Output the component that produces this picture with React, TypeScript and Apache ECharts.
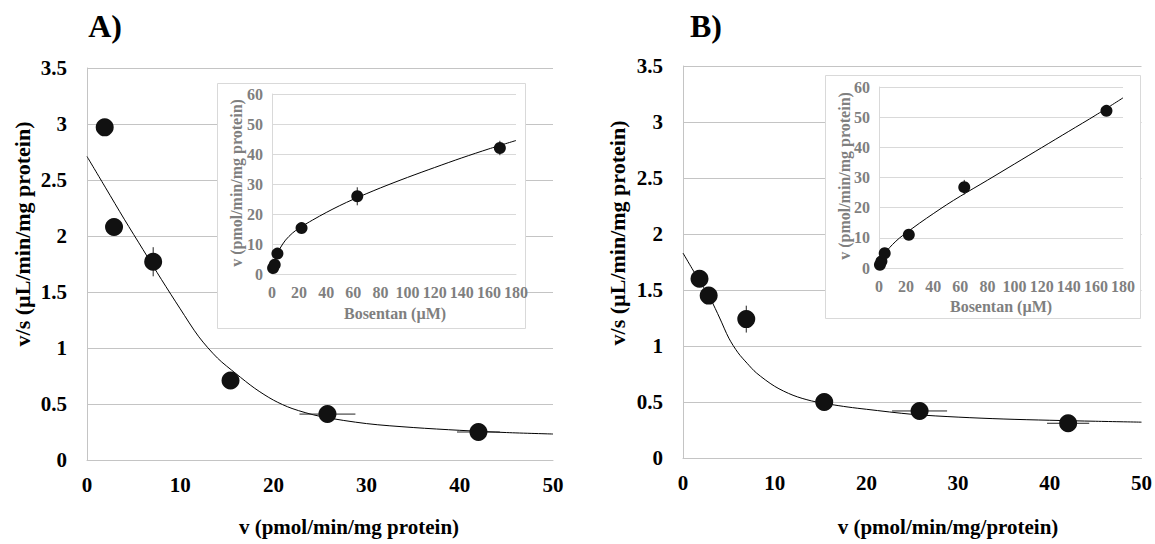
import React, { useEffect, useRef } from "react";
import * as echarts from "echarts";

// ---------- Data ----------
// Panel A main (Eadie-Hofstee): v vs v/s
const mainAX = [1.9, 2.9, 7.1, 15.4, 25.8, 42.0];
const mainAY = [2.97, 2.08, 1.77, 0.71, 0.41, 0.25];
const mainAXErr = [0, 0, 0, 0, 3.0, 2.3];
const mainAYErr = [0, 0, 0.13, 0, 0, 0];
const curveAX = [0, 2, 4, 6, 8, 10, 12, 14, 16, 18, 20, 22, 25, 30, 35, 40, 45, 50];
const curveAY = [2.71, 2.43, 2.15, 1.88, 1.61, 1.35, 1.1, 0.91, 0.77, 0.64, 0.535, 0.46, 0.39, 0.325, 0.29, 0.265, 0.245, 0.232];

// Panel B main
const mainBX = [1.8, 2.8, 6.9, 15.4, 25.8, 42.0];
const mainBY = [1.6, 1.45, 1.24, 0.5, 0.42, 0.31];
const mainBXErr = [0, 0, 0, 0, 3.0, 2.3];
const mainBYErr = [0, 0, 0.12, 0, 0, 0];
const curveBX = [0, 1, 2, 3, 4, 5, 6, 7, 8, 10, 12, 14, 16, 18, 20, 25, 30, 35, 40, 45, 50];
const curveBY = [1.83, 1.69, 1.555, 1.42, 1.25, 1.07, 0.94, 0.845, 0.76, 0.64, 0.56, 0.51, 0.48, 0.455, 0.435, 0.39, 0.365, 0.348, 0.337, 0.328, 0.32];

// Inset A: Bosentan (µM) vs v
const insetAX = [0.8, 2.0, 4.0, 21.8, 62.9, 168.1];
const insetAY = [2.0, 3.1, 6.8, 15.3, 25.9, 42.0];
const insetAYErr = [0, 0, 0, 0, 3.0, 2.4];
const insetACurveX = [0, 1, 2, 4, 6, 10, 15, 20, 30, 40, 50, 60, 80, 100, 120, 140, 160, 180];
const insetACurveY = [0, 2.2, 3.8, 6.5, 8.6, 11.3, 13.6, 15.3, 18.0, 20.5, 22.8, 24.9, 28.7, 32.2, 35.5, 38.7, 41.7, 44.5];

// Inset B
const insetBX = [0.7, 1.8, 4.2, 22.0, 62.9, 167.8];
const insetBY = [1.1, 2.2, 4.9, 11.0, 26.8, 52.1];
const insetBYErr = [0, 0, 0, 0, 2.4, 0];
const insetBCurveX = [0, 1, 2, 4, 6, 10, 15, 20, 30, 40, 50, 60, 80, 100, 120, 140, 160, 180];
const insetBCurveY = [0, 1.7, 2.8, 4.5, 5.8, 7.8, 9.9, 11.6, 14.9, 18.0, 21.0, 23.8, 29.1, 34.5, 39.9, 45.3, 50.7, 56.4];

const mainXTicks = { min: 0, max: 50, interval: 10 };
const mainYTicks = { min: 0, max: 3.5, interval: 0.5 };
const insetXTicks = { min: 0, max: 180, interval: 20 };
const insetYTicks = { min: 0, max: 60, interval: 10 };

const panelLabels = ["A)", "B)"];
const mainYTitle = "v/s (µL/min/mg protein)";
const mainXTitleA = "v (pmol/min/mg protein)";
const mainXTitleB = "v (pmol/min/mg/protein)";
const insetYTitle = "v (pmol/min/mg protein)";
const insetXTitle = "Bosentan (µM)";

// ---------- Helpers ----------
const SERIF = "Liberation Serif";
const GRID_MAIN = "#c4c4c4";
const GRID_INSET = "#d9d9d9";
const INSET_TEXT = "#7f7f7f";

const zip = (a: number[], b: number[]) => a.map((v, i) => [v, b[i]]);
const zip4 = (a: number[], b: number[], c: number[], d: number[]) => a.map((v, i) => [v, b[i], c[i], d[i]]);

function errorRender(color: string) {
  return (params: any, api: any) => {
    const x = api.value(0);
    const y = api.value(1);
    const ex = api.value(2);
    const ey = api.value(3);
    const children: any[] = [];
    if (ey > 0) {
      const p1 = api.coord([x, y - ey]);
      const p2 = api.coord([x, y + ey]);
      children.push({ type: "line", shape: { x1: p1[0], y1: p1[1], x2: p2[0], y2: p2[1] }, style: { stroke: color, lineWidth: 1 } });
    }
    if (ex > 0) {
      const p1 = api.coord([x - ex, y]);
      const p2 = api.coord([x + ex, y]);
      children.push({ type: "line", shape: { x1: p1[0], y1: p1[1], x2: p2[0], y2: p2[1] }, style: { stroke: color, lineWidth: 1 } });
    }
    return { type: "group", children };
  };
}

function mainXAxis(gridIndex: number) {
  return {
    type: "value", gridIndex, ...mainXTicks, z: 0,
    axisLine: { show: true, onZero: false, lineStyle: { color: GRID_MAIN, width: 1 } },
    axisTick: { show: false },
    splitLine: { show: false },
    axisLabel: { color: "#000", fontFamily: SERIF, fontWeight: "bold", fontSize: 21, margin: 14 },
  };
}
function mainYAxis(gridIndex: number) {
  return {
    type: "value", gridIndex, ...mainYTicks, z: 0,
    axisLine: { show: true, onZero: false, lineStyle: { color: GRID_MAIN, width: 1 } },
    axisTick: { show: false },
    splitLine: { show: true, lineStyle: { color: GRID_MAIN, width: 1 } },
    axisLabel: { color: "#000", fontFamily: SERIF, fontWeight: "bold", fontSize: 21, margin: 20 },
  };
}
function insetXAxis(gridIndex: number) {
  return {
    type: "value", gridIndex, ...insetXTicks, z: 10,
    axisLine: { show: true, onZero: false, lineStyle: { color: GRID_INSET, width: 1 } },
    axisTick: { show: false },
    splitLine: { show: false },
    axisLabel: { color: INSET_TEXT, fontFamily: SERIF, fontWeight: "bold", fontSize: 16, margin: 10 },
  };
}
function insetYAxis(gridIndex: number) {
  return {
    type: "value", gridIndex, ...insetYTicks, z: 10,
    axisLine: { show: true, onZero: false, lineStyle: { color: GRID_INSET, width: 1 } },
    axisTick: { show: false },
    splitLine: { show: true, lineStyle: { color: GRID_INSET, width: 1 } },
    axisLabel: { color: INSET_TEXT, fontFamily: SERIF, fontWeight: "bold", fontSize: 16, margin: 9 },
  };
}

function text(t: string, x: number, y: number, size: number, color: string, rotate = false) {
  return {
    type: "text", x, y, z: 20,
    rotation: rotate ? Math.PI / 2 : 0,
    style: {
      text: t, fill: color,
      fontFamily: SERIF, fontWeight: "bold", fontSize: size,
      align: "center", verticalAlign: "middle", textAlign: "center", textVerticalAlign: "middle",
    },
  };
}

export default function App() {
  const ref = useRef<HTMLDivElement>(null);
  useEffect(() => {
    if (!ref.current) return;
    const chart = echarts.init(ref.current, null, { renderer: "svg" });
    const dot = "#111";
    const option: any = {
      animation: false,
      backgroundColor: "#fff",
      textStyle: { fontFamily: SERIF },
      grid: [
        { left: 87, top: 68, width: 466, height: 392, show: false },
        { left: 683, top: 66, width: 459, height: 392, show: false },
        { left: 272, top: 94, width: 244, height: 180, show: false, z: 10 },
        { left: 879, top: 87, width: 244, height: 181, show: false, z: 10 },
      ],
      xAxis: [mainXAxis(0), mainXAxis(1), insetXAxis(2), insetXAxis(3)],
      yAxis: [mainYAxis(0), mainYAxis(1), insetYAxis(2), insetYAxis(3)],
      graphic: [
        { type: "rect", z: 5, shape: { x: 217.5, y: 83.5, width: 308, height: 245 }, style: { fill: "#fff", stroke: GRID_INSET, lineWidth: 1 } },
        { type: "rect", z: 5, shape: { x: 825.5, y: 75.5, width: 315, height: 243 }, style: { fill: "#fff", stroke: GRID_INSET, lineWidth: 1 } },
        text(panelLabels[0], 105, 26, 32, "#000"),
        text(panelLabels[1], 706, 26, 32, "#000"),
        text(mainYTitle, 22, 234, 22, "#000", true),
        text(mainYTitle, 617, 233, 22, "#000", true),
        text(mainXTitleA, 349, 527, 21, "#000"),
        text(mainXTitleB, 948, 527, 21, "#000"),
        text(insetYTitle, 236, 183, 16, INSET_TEXT, true),
        text(insetYTitle, 844, 176, 16, INSET_TEXT, true),
        text(insetXTitle, 395, 313, 16, INSET_TEXT),
        text(insetXTitle, 1001, 306, 16, INSET_TEXT),
      ],
      series: [
        // Panel A main
        { type: "line", xAxisIndex: 0, yAxisIndex: 0, data: zip(curveAX, curveAY), smooth: 0.3, showSymbol: false, symbol: "none", lineStyle: { color: "#000", width: 1 }, z: 2 },
        { type: "custom", xAxisIndex: 0, yAxisIndex: 0, data: zip4(mainAX, mainAY, mainAXErr, mainAYErr), renderItem: errorRender("#222"), encode: { x: 0, y: 1 }, z: 3 },
        { type: "scatter", xAxisIndex: 0, yAxisIndex: 0, data: zip(mainAX, mainAY), symbolSize: 18, itemStyle: { color: dot, opacity: 1 }, z: 4 },
        // Panel B main
        { type: "line", xAxisIndex: 1, yAxisIndex: 1, data: zip(curveBX, curveBY), smooth: 0.3, showSymbol: false, symbol: "none", lineStyle: { color: "#000", width: 1 }, z: 2 },
        { type: "custom", xAxisIndex: 1, yAxisIndex: 1, data: zip4(mainBX, mainBY, mainBXErr, mainBYErr), renderItem: errorRender("#222"), encode: { x: 0, y: 1 }, z: 3 },
        { type: "scatter", xAxisIndex: 1, yAxisIndex: 1, data: zip(mainBX, mainBY), symbolSize: 18, itemStyle: { color: dot, opacity: 1 }, z: 4 },
        // Inset A
        { type: "line", xAxisIndex: 2, yAxisIndex: 2, data: zip(insetACurveX, insetACurveY), smooth: 0.3, showSymbol: false, symbol: "none", lineStyle: { color: "#000", width: 1 }, z: 12 },
        { type: "custom", xAxisIndex: 2, yAxisIndex: 2, data: zip4(insetAX, insetAY, insetAX.map(() => 0), insetAYErr), renderItem: errorRender("#222"), encode: { x: 0, y: 1 }, z: 13 },
        { type: "scatter", xAxisIndex: 2, yAxisIndex: 2, data: zip(insetAX, insetAY), symbolSize: 12, itemStyle: { color: dot, opacity: 1 }, z: 14 },
        // Inset B
        { type: "line", xAxisIndex: 3, yAxisIndex: 3, data: zip(insetBCurveX, insetBCurveY), smooth: 0.3, showSymbol: false, symbol: "none", lineStyle: { color: "#000", width: 1 }, z: 12 },
        { type: "custom", xAxisIndex: 3, yAxisIndex: 3, data: zip4(insetBX, insetBY, insetBX.map(() => 0), insetBYErr), renderItem: errorRender("#222"), encode: { x: 0, y: 1 }, z: 13 },
        { type: "scatter", xAxisIndex: 3, yAxisIndex: 3, data: zip(insetBX, insetBY), symbolSize: 12, itemStyle: { color: dot, opacity: 1 }, z: 14 },
      ],
    };
    chart.setOption(option);
    return () => chart.dispose();
  }, []);
  return <div ref={ref} style={{ position: "fixed", left: 0, top: 0, width: 1155, height: 544, background: "#fff" }} />;
}
